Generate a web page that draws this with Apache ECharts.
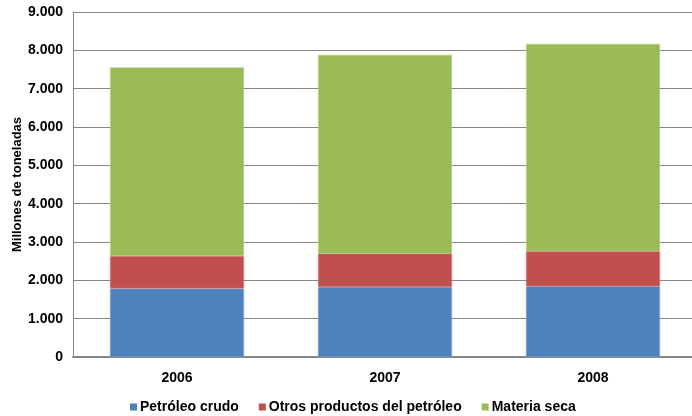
<!DOCTYPE html>
<html>
<head>
<meta charset="utf-8">
<script src="https://cdn.jsdelivr.net/npm/echarts@6/dist/echarts.min.js"></script>
<style>
  html, body { margin: 0; padding: 0; background: #fff; }
  #chart { width: 692px; height: 416px; }
</style>
</head>
<body>
<div id="chart"></div>
<script>
// Years on the category axis
const years = ['2006', '2007', '2008'];

// Stacked tonnage per year (millions of tonnes)
const petroleoCrudo = [1785, 1825, 1845];
const otrosProductos = [850, 875, 915];
const materiaSeca = [4920, 5180, 5405];

// Value axis ticks
const yMin = 0;
const yMax = 9000;
const yStep = 1000;

const FONT = '"Liberation Sans", Arial, sans-serif';

// Thousands separator with a dot: 9000 -> "9.000"
function fmtThousands(v) {
  return String(v).replace(/\B(?=(\d{3})+(?!\d))/g, '.');
}

const chart = echarts.init(document.getElementById('chart'), null, { renderer: 'canvas' });

const barStyle = (color, border) => ({
  color: color,
  borderColor: border,
  borderWidth: 0.6
});

chart.setOption({
  animation: false,
  backgroundColor: '#ffffff',
  textStyle: { fontFamily: FONT },
  grid: {
    left: 73, top: 12, right: -5, bottom: 59,
    containLabel: false,
    outerBoundsMode: 'none'
  },
  legend: {
    left: 125,
    top: 395,
    itemWidth: 7,
    itemHeight: 7,
    itemGap: 20,
    icon: 'rect',
    itemStyle: { borderWidth: 0 },
    textStyle: { fontFamily: FONT, fontSize: 14, fontWeight: 'bold', color: '#000', padding: [0, 0, 0, -2] },
    data: ['Petróleo crudo', 'Otros productos del petróleo', 'Materia seca']
  },
  xAxis: {
    type: 'category',
    data: years,
    axisLine: { show: true, lineStyle: { color: '#868686', width: 2 } },
    axisTick: { show: false },
    axisLabel: { margin: 14, fontFamily: FONT, fontSize: 14, fontWeight: 'bold', color: '#000' }
  },
  yAxis: {
    type: 'value',
    min: yMin,
    max: yMax,
    interval: yStep,
    name: 'Millones de toneladas',
    nameLocation: 'middle',
    nameGap: 49,
    nameRotate: 90,
    nameMoveOverlap: false,
    nameTextStyle: { fontFamily: FONT, fontSize: 13, fontWeight: 'bold', color: '#000' },
    axisLine: { show: true, lineStyle: { color: '#868686', width: 1 } },
    axisTick: { show: false },
    splitLine: { show: true, lineStyle: { color: '#868686', width: 1.2 } },
    axisLabel: {
      margin: 10,
      fontFamily: FONT,
      fontSize: 14,
      fontWeight: 'bold',
      color: '#000',
      formatter: fmtThousands
    }
  },
  series: [
    {
      name: 'Petróleo crudo',
      type: 'bar',
      stack: 'total',
      barWidth: 134,
      itemStyle: barStyle('#4F81BD', '#7FA3D0'),
      data: petroleoCrudo
    },
    {
      name: 'Otros productos del petróleo',
      type: 'bar',
      stack: 'total',
      barWidth: 134,
      itemStyle: barStyle('#C0504D', '#D07A78'),
      data: otrosProductos
    },
    {
      name: 'Materia seca',
      type: 'bar',
      stack: 'total',
      barWidth: 134,
      itemStyle: barStyle('#9BBB59', '#B5CE85'),
      data: materiaSeca
    }
  ]
});
</script>
</body>
</html>
